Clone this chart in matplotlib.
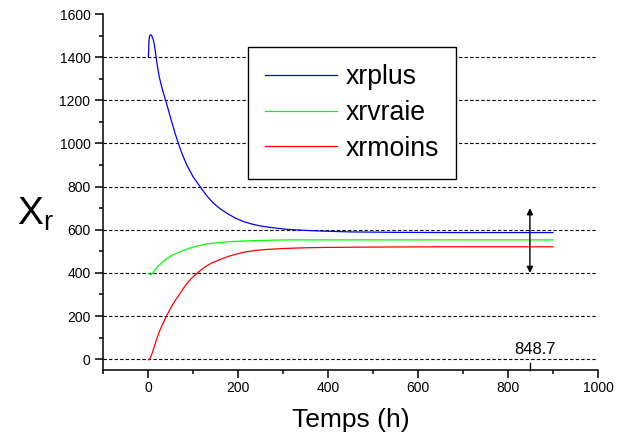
import matplotlib
matplotlib.use("Agg")
import matplotlib.pyplot as plt
import numpy as np

plt.rcParams['font.family'] = ['Liberation Sans', 'DejaVu Sans']
plt.rcParams['mathtext.fontset'] = 'custom'
plt.rcParams['mathtext.rm'] = 'Liberation Sans'
plt.rcParams['mathtext.it'] = 'Liberation Sans'

PLUS_COLOR = '#0000ff'
VRAIE_COLOR = '#00ff00'
MOINS_COLOR = '#ff0000'

# Courbes xr en fonction du temps (h)
t_plus = [1, 1.6, 2.2, 3, 4, 5, 6.7, 8, 9.5, 11.9, 14, 16, 17.8, 20, 22.5, 25, 28, 31,
          34.5, 38, 42, 47, 52.6, 60, 67.4, 76, 86, 100, 115.6, 130, 145, 160, 175,
          193, 212, 230, 249, 268, 286, 305, 323, 360, 400, 450, 550, 700, 900]
xrplus = [1402, 1445, 1475, 1492, 1500, 1503, 1503, 1500, 1494, 1480, 1458, 1430, 1402,
          1370, 1338, 1310, 1282, 1258, 1232, 1208, 1180, 1142, 1101, 1048, 1001, 950,
          901, 846, 800, 759, 724, 698, 677, 655, 638, 627, 618, 612, 607, 603, 600,
          596, 593, 590, 588, 587, 587]

t_vraie = [1, 3, 5, 6.7, 8.5, 10.5, 13, 15.6, 19, 22.5, 26.7, 33, 41.5, 52, 64, 78, 93,
           110, 130, 150, 175, 205, 241, 280, 316, 360, 400, 550, 700, 900]
xrvraie = [398, 395, 393, 392, 394, 399, 407, 415, 424, 431, 438, 452, 466, 480, 492, 504,
           515, 525, 534, 539, 544, 547, 550, 552, 553, 553, 553, 553, 553, 553]

t_moins = [1, 4, 8, 12, 15.6, 19, 23, 27, 32, 37, 41.5, 47, 52.6, 60, 67.4, 76, 86, 98,
           112, 126, 141.5, 160, 178, 196, 215.5, 238, 265, 300, 340, 390, 450, 520,
           650, 900]
xrmoins = [-3, 2, 20, 45, 68, 92, 114, 137, 160, 182, 202, 224, 245, 270, 293, 320, 350,
           378, 404, 427, 446, 462, 476, 487, 497, 504, 509, 513, 516, 518, 519, 520,
           521, 521]

t_mark = 848.7
ecart_bas = 400
ecart_haut = 700

fig = plt.figure(figsize=(6.34, 4.41), dpi=100)
ax = fig.add_axes([103 / 634, 1 - 370 / 441, 495 / 634, 356 / 441])

ax.plot(t_plus, xrplus, color=PLUS_COLOR, lw=0.9, label='xrplus')
ax.plot(t_vraie, xrvraie, color=VRAIE_COLOR, lw=0.9, label='xrvraie')
ax.plot(t_moins, xrmoins, color=MOINS_COLOR, lw=0.9, label='xrmoins')

ax.set_xlim(-100, 1000)
ax.set_ylim(-50, 1600)
ax.set_xticks(np.arange(0, 1001, 200))
ax.set_xticks(np.arange(-100, 1001, 100), minor=True)
ax.set_yticks(np.arange(0, 1601, 200))
ax.set_yticks(np.arange(0, 1601, 100), minor=True)

for side in ['top', 'right']:
    ax.spines[side].set_visible(False)
for side in ['left', 'bottom']:
    ax.spines[side].set_linewidth(1.1)

ax.tick_params(which='major', direction='out', length=5.5, width=1.1, labelsize=10)
ax.tick_params(axis='x', which='major', pad=2.5)
ax.tick_params(axis='y', which='major', pad=3.5)
ax.tick_params(which='minor', direction='out', length=3, width=1.1)

ax.grid(axis='y', which='major', color='black', linestyle=(0, (3, 2)), linewidth=0.8)
ax.yaxis.get_gridlines()[-1].set_visible(False)

# repere a t = 848.7 et ecart entre les courbes
ax.plot([t_mark, t_mark], [0, 0.02], color='black', lw=1.0,
        transform=ax.get_xaxis_transform(), clip_on=False)
ax.annotate('848.7', xy=(t_mark, 0), xytext=(4, 1.5), textcoords='offset points',
            ha='center', va='bottom', fontsize=12)
ax.annotate('', xy=(t_mark, ecart_haut), xytext=(t_mark, ecart_bas),
            arrowprops=dict(arrowstyle='<|-|>', color='black', lw=1.0,
                            mutation_scale=9, shrinkA=0, shrinkB=0))

leg = ax.legend(loc='upper left', bbox_to_anchor=(248 / 634, 1 - 47 / 441),
                bbox_transform=fig.transFigure, borderaxespad=0, fontsize=19.2,
                handlelength=2.7, handletextpad=0.3, labelspacing=0.36,
                borderpad=0.65, fancybox=False, shadow=False, framealpha=1)
leg.get_frame().set_edgecolor('black')
leg.get_frame().set_linewidth(1.0)

fig.text(17 / 634, 1 - 225 / 441, r'$\mathrm{X}_\mathrm{r}$', fontsize=28, va='baseline')
fig.text(351 / 634, 1 - 427 / 441, 'Temps (h)', fontsize=19, ha='center', va='baseline')

fig.savefig('out.png', dpi=100)
